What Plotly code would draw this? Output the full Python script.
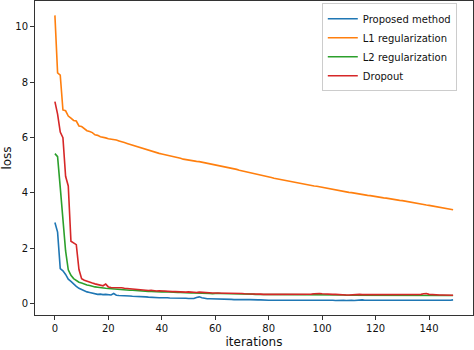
import plotly.graph_objects as go

iterations = list(range(150))

proposed = [
    2.93, 2.58, 1.26, 1.18, 1.05, 0.88, 0.80, 0.70, 0.62, 0.55,
    0.50, 0.46, 0.42, 0.40, 0.37, 0.35, 0.33, 0.34, 0.32, 0.33,
    0.32, 0.31, 0.36, 0.30, 0.29, 0.29, 0.28, 0.27, 0.27, 0.26,
    0.26, 0.25, 0.25, 0.24, 0.24, 0.23, 0.22, 0.22, 0.21, 0.21,
    0.21, 0.22, 0.21, 0.20, 0.20, 0.21, 0.20, 0.19, 0.19, 0.19,
    0.18, 0.19, 0.18, 0.22, 0.24, 0.21, 0.18, 0.17, 0.17, 0.17,
    0.17, 0.16, 0.16, 0.15, 0.16, 0.15, 0.15, 0.14, 0.15, 0.14,
    0.14, 0.15, 0.14, 0.14, 0.13, 0.14, 0.13, 0.13, 0.12, 0.13,
    0.12, 0.12, 0.13, 0.12, 0.12, 0.12, 0.13, 0.12, 0.12, 0.12,
    0.12, 0.13, 0.12, 0.13, 0.14, 0.14, 0.13, 0.12, 0.12, 0.13,
    0.12, 0.12, 0.12, 0.13, 0.12, 0.11, 0.12, 0.12, 0.12, 0.11,
    0.12, 0.12, 0.11, 0.12, 0.12, 0.13, 0.12, 0.12, 0.11, 0.12,
    0.12, 0.12, 0.11, 0.12, 0.12, 0.11, 0.12, 0.11, 0.11, 0.12,
    0.11, 0.11, 0.12, 0.11, 0.10, 0.11, 0.11, 0.11, 0.12, 0.11,
    0.11, 0.10, 0.11, 0.10, 0.11, 0.11, 0.11, 0.12, 0.12, 0.13,
]

l1_reg = [
    10.42, 8.34, 8.26, 7.00, 6.97, 6.78, 6.70, 6.62, 6.60, 6.42,
    6.40, 6.33, 6.25, 6.22, 6.18, 6.10, 6.08, 6.03, 6.02, 5.99,
    5.96, 5.95, 5.92, 5.91, 5.88, 5.84, 5.82, 5.79, 5.76, 5.73,
    5.69, 5.65, 5.62, 5.60, 5.57, 5.54, 5.52, 5.49, 5.46, 5.43,
    5.41, 5.39, 5.37, 5.34, 5.32, 5.30, 5.27, 5.25, 5.22, 5.20,
    5.19, 5.17, 5.16, 5.14, 5.13, 5.11, 5.09, 5.07, 5.06, 5.04,
    5.02, 5.00, 4.98, 4.97, 4.95, 4.93, 4.90, 4.87, 4.85, 4.82,
    4.80, 4.78, 4.76, 4.74, 4.72, 4.69, 4.67, 4.65, 4.63, 4.60,
    4.58, 4.56, 4.53, 4.51, 4.49, 4.47, 4.46, 4.44, 4.42, 4.40,
    4.38, 4.36, 4.34, 4.32, 4.30, 4.29, 4.27, 4.25, 4.24, 4.22,
    4.20, 4.18, 4.16, 4.14, 4.12, 4.11, 4.09, 4.07, 4.06, 4.04,
    4.02, 4.01, 3.99, 3.97, 3.96, 3.94, 3.93, 3.91, 3.90, 3.88,
    3.87, 3.85, 3.84, 3.82, 3.81, 3.79, 3.78, 3.76, 3.75, 3.73,
    3.72, 3.70, 3.69, 3.67, 3.65, 3.63, 3.62, 3.60, 3.58, 3.56,
    3.55, 3.53, 3.51, 3.49, 3.48, 3.46, 3.44, 3.42, 3.41, 3.39,
]

l2_reg = [
    5.42, 5.31, 4.20, 3.10, 1.90, 1.22, 1.02, 0.90, 0.82, 0.77,
    0.74, 0.70, 0.67, 0.65, 0.62, 0.60, 0.59, 0.57, 0.56, 0.55,
    0.54, 0.53, 0.52, 0.52, 0.51, 0.50, 0.50, 0.49, 0.48, 0.48,
    0.47, 0.46, 0.46, 0.45, 0.45, 0.44, 0.44, 0.43, 0.43, 0.42,
    0.42, 0.43, 0.42, 0.41, 0.41, 0.40, 0.40, 0.40, 0.39, 0.39,
    0.39, 0.38, 0.38, 0.38, 0.37, 0.37, 0.36, 0.36, 0.36, 0.35,
    0.37, 0.37, 0.36, 0.36, 0.36, 0.36, 0.35, 0.35, 0.35, 0.35,
    0.35, 0.34, 0.34, 0.34, 0.34, 0.33, 0.33, 0.33, 0.32, 0.32,
    0.32, 0.32, 0.32, 0.32, 0.32, 0.32, 0.31, 0.32, 0.32, 0.32,
    0.32, 0.32, 0.32, 0.32, 0.32, 0.33, 0.33, 0.33, 0.33, 0.33,
    0.33, 0.33, 0.32, 0.32, 0.32, 0.32, 0.31, 0.31, 0.31, 0.30,
    0.30, 0.31, 0.31, 0.31, 0.31, 0.31, 0.31, 0.31, 0.31, 0.31,
    0.31, 0.30, 0.30, 0.31, 0.31, 0.30, 0.30, 0.30, 0.30, 0.30,
    0.30, 0.30, 0.30, 0.30, 0.31, 0.30, 0.30, 0.31, 0.31, 0.31,
    0.31, 0.31, 0.30, 0.30, 0.30, 0.30, 0.30, 0.29, 0.29, 0.29,
]

dropout = [
    7.30, 6.85, 6.20, 6.00, 4.60, 4.25, 2.25, 2.20, 2.13, 1.23,
    0.90, 0.84, 0.80, 0.77, 0.74, 0.71, 0.68, 0.65, 0.64, 0.70,
    0.60, 0.58, 0.58, 0.57, 0.56, 0.57, 0.55, 0.54, 0.53, 0.53,
    0.50, 0.49, 0.48, 0.49, 0.47, 0.47, 0.48, 0.46, 0.45, 0.46,
    0.45, 0.46, 0.44, 0.44, 0.43, 0.43, 0.42, 0.43, 0.42, 0.41,
    0.42, 0.41, 0.41, 0.40, 0.41, 0.40, 0.39, 0.39, 0.39, 0.38,
    0.38, 0.38, 0.37, 0.37, 0.38, 0.37, 0.36, 0.37, 0.36, 0.36,
    0.36, 0.35, 0.35, 0.36, 0.35, 0.34, 0.34, 0.34, 0.33, 0.33,
    0.32, 0.33, 0.33, 0.34, 0.33, 0.33, 0.32, 0.33, 0.33, 0.34,
    0.33, 0.34, 0.34, 0.33, 0.34, 0.34, 0.34, 0.35, 0.36, 0.36,
    0.35, 0.34, 0.34, 0.33, 0.33, 0.33, 0.32, 0.32, 0.32, 0.31,
    0.31, 0.32, 0.32, 0.33, 0.33, 0.32, 0.32, 0.32, 0.32, 0.32,
    0.32, 0.31, 0.31, 0.32, 0.32, 0.31, 0.31, 0.31, 0.31, 0.31,
    0.31, 0.31, 0.31, 0.31, 0.32, 0.31, 0.32, 0.33, 0.35, 0.36,
    0.33, 0.32, 0.31, 0.31, 0.31, 0.31, 0.31, 0.30, 0.30, 0.30,
]

series_names = ["Proposed method", "L1 regularization", "L2 regularization", "Dropout"]
series_values = [proposed, l1_reg, l2_reg, dropout]
colors = ["#1f77b4", "#ff7f0e", "#2ca02c", "#d62728"]

x_ticks = [0, 20, 40, 60, 80, 100, 120, 140]
y_ticks = [0, 2, 4, 6, 8, 10]

fig = go.Figure()
for name, vals, col in zip(series_names, series_values, colors):
    fig.add_trace(go.Scatter(x=iterations, y=vals, mode="lines", name=name,
                             line=dict(color=col, width=1.6)))

axis_common = dict(
    showline=True, linecolor="#333333", linewidth=1, mirror=True,
    ticks="outside", ticklen=4, tickwidth=1, tickcolor="#333333",
    showgrid=False, zeroline=False,
    tickfont=dict(family="DejaVu Sans", size=10, color="#111111"),
)

fig.update_layout(
    width=474, height=350,
    margin=dict(l=35, r=1, t=1, b=35),
    paper_bgcolor="white", plot_bgcolor="white",
    font=dict(family="DejaVu Sans", color="#111111"),
    xaxis=dict(axis_common, range=[-7.45, 156.45], tickvals=x_ticks,
               title=dict(text="iterations", font=dict(size=12), standoff=4)),
    yaxis=dict(axis_common, range=[-0.416, 10.94], tickvals=y_ticks,
               title=dict(text="loss", font=dict(size=12), standoff=6)),
    legend=dict(x=0.963, y=0.993, xanchor="right", yanchor="top",
                bgcolor="rgba(255,255,255,0.85)", bordercolor="#cccccc", borderwidth=1,
                font=dict(family="DejaVu Sans", size=10, color="#111111"),
                tracegroupgap=0, itemwidth=30),
    showlegend=True,
)

fig.write_html("out.html")
